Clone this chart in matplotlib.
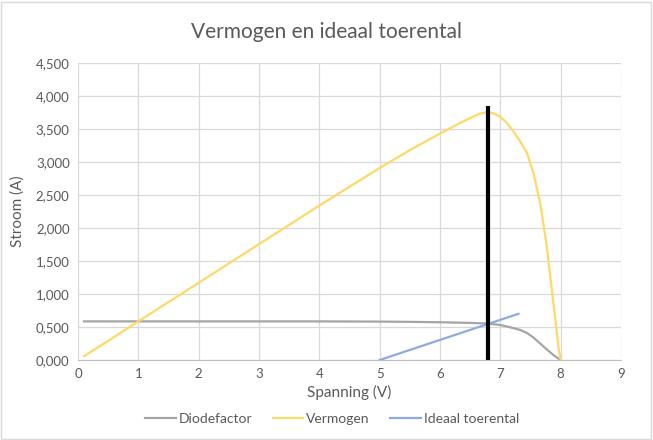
import matplotlib
matplotlib.use("Agg")
from matplotlib import pyplot as plt
from matplotlib.patches import Rectangle
from matplotlib.ticker import FuncFormatter

# Diodefactor (spanning V, stroom A)
diode_v = [0.1, 0.5, 1.0, 2.0, 3.0, 4.0, 5.0, 5.5, 6.0, 6.5, 6.8, 7.0, 7.11, 7.22, 7.33,
           7.44, 7.55, 7.66, 7.77, 7.88, 7.95, 8.0]
diode_i = [0.585, 0.585, 0.585, 0.585, 0.585, 0.585, 0.582, 0.578, 0.572, 0.562, 0.552,
           0.53, 0.508, 0.482, 0.455, 0.41, 0.34, 0.25, 0.16, 0.076, 0.03, 0.0]

# Vermogen
verm_v = [0.1, 0.5, 1.0, 2.0, 3.0, 4.0, 5.0, 5.5, 6.0, 6.3, 6.5, 6.67, 6.8, 6.89, 7.0,
          7.11, 7.22, 7.33, 7.44, 7.55, 7.66, 7.77, 7.88, 7.97, 8.0]
verm_p = [0.058, 0.29, 0.585, 1.17, 1.755, 2.34, 2.91, 3.18, 3.43, 3.575, 3.665, 3.735, 3.755,
          3.735, 3.686, 3.59, 3.46, 3.31, 3.14, 2.83, 2.38, 1.72, 0.86, 0.15, 0.0]

# Ideaal toerental
ideaal_v = [5.0, 7.3]
ideaal_i = [0.0, 0.70]

# verticale lijn bij het ideale punt
v_opt = 6.8
v_opt_top = 3.85

grey_txt = "#595959"
plt.rcParams["font.family"] = ["Lato", "DejaVu Sans"]

fig = plt.figure(figsize=(6.53, 4.40), dpi=100)
ax = fig.add_axes([78/653, 1-360/440, (621-78)/653, (360-63)/440])

ax.plot(diode_v, diode_i, color="#A5A5A5", linewidth=1.6, label="Diodefactor")
ax.plot(verm_v, verm_p, color="#FFD966", linewidth=1.6, label="Vermogen")
ax.plot(ideaal_v, ideaal_i, color="#8FAADC", linewidth=1.6, label="Ideaal toerental")
ax.plot([v_opt, v_opt], [0, v_opt_top], color="black", linewidth=3, solid_capstyle="butt")

ax.set_xlim(0, 9)
ax.set_ylim(0, 4.5)
ax.set_xticks(range(0, 10))
ax.set_yticks([i*0.5 for i in range(10)])
ax.yaxis.set_major_formatter(FuncFormatter(lambda v, p: f"{v:.3f}".replace(".", ",")))
ax.grid(True, color="#D9D9D9", linewidth=0.9)
ax.set_axisbelow(True)
for s in ["top", "right", "left"]:
    ax.spines[s].set_visible(False)
ax.spines["bottom"].set_color("#BFBFBF")
ax.tick_params(length=0, labelsize=9.5, colors=grey_txt, pad=6)

ax.set_xlabel("Spanning (V)", fontsize=11, color=grey_txt, labelpad=3)
ax.set_ylabel("Stroom (A)", fontsize=11, color=grey_txt, labelpad=8)
fig.text(0.5, 1-32/440, "Vermogen en ideaal toerental", ha="center", va="center",
         fontsize=15, color=grey_txt)

h, l = ax.get_legend_handles_labels()
fig.legend(h, l, loc="center", bbox_to_anchor=(332/653, 1-419/440), ncol=3, frameon=False,
           fontsize=10, labelcolor=grey_txt, handlelength=2.2, handletextpad=0.2,
           columnspacing=1.5)

fig.patches.append(Rectangle((1/653, 1/440), 650/653, 437/440, transform=fig.transFigure,
                             fill=False, edgecolor="#D9D9D9", linewidth=1))

fig.savefig("out.png", dpi=100)
